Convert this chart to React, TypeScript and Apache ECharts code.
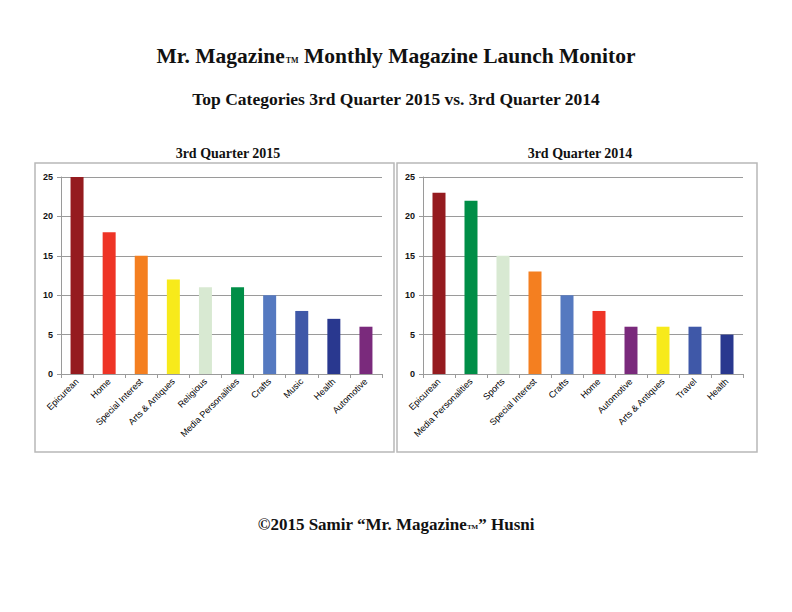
import React, { useEffect, useRef } from "react";
import * as echarts from "echarts";

const categories2015 = ["Epicurean", "Home", "Special Interest", "Arts & Antiques", "Religious", "Media Personalities", "Crafts", "Music", "Health", "Automotive"];
const values2015 = [25, 18, 15, 12, 11, 11, 10, 8, 7, 6];
const categories2014 = ["Epicurean", "Media Personalities", "Sports", "Special Interest", "Crafts", "Home", "Automotive", "Arts & Antiques", "Travel", "Health"];
const values2014 = [23, 22, 15, 13, 10, 8, 6, 6, 6, 5];
const yTicks = [0, 5, 10, 15, 20, 25];

const categoryColors: Record<string, string> = {
  "Epicurean": "#951b1f",
  "Home": "#ee3426",
  "Special Interest": "#f47f20",
  "Arts & Antiques": "#f7ea1b",
  "Religious": "#d8e9d2",
  "Sports": "#d8e9d2",
  "Media Personalities": "#008e47",
  "Crafts": "#5579c0",
  "Music": "#3f58a8",
  "Travel": "#3f58a8",
  "Health": "#29388f",
  "Automotive": "#7a2a7c",
};

const serif = "'Liberation Serif', 'DejaVu Serif', serif";
const sans = "'Liberation Sans', 'DejaVu Sans', sans-serif";

export default function App() {
  const ref = useRef<HTMLDivElement>(null);
  useEffect(() => {
    if (!ref.current) return;
    const chart = echarts.init(ref.current, null, { renderer: "svg" });
    const xAxisCommon = {
      type: "category" as const,
      axisLine: { lineStyle: { color: "#9a9a9a", width: 1 } },
      axisTick: { show: true, alignWithLabel: false, length: 4, lineStyle: { color: "#9a9a9a" } },
      axisLabel: { rotate: 45, interval: 0, fontFamily: sans, fontSize: 9, color: "#000", margin: 6 },
    };
    const yAxisCommon = {
      type: "value" as const,
      min: 0,
      max: 25,
      interval: 5,
      axisLine: { show: true, lineStyle: { color: "#9a9a9a" } },
      axisTick: { show: true, length: 4, lineStyle: { color: "#9a9a9a" } },
      axisLabel: { fontFamily: sans, fontSize: 9, fontWeight: "bold" as const, color: "#111", margin: 8,
        formatter: (v: number) => (yTicks.includes(v) ? String(v) : "") },
      splitLine: { show: true, lineStyle: { color: "#9a9a9a", width: 1 } },
    };
    const mk = (cats: string[], vals: number[]) =>
      vals.map((v, i) => ({ value: v, itemStyle: { color: categoryColors[cats[i]] } }));
    chart.setOption({
      animation: false,
      backgroundColor: "#ffffff",
      title: [
        {
          text: "{a|Mr. Magazine}{b|TM}{a| Monthly Magazine Launch Monitor}",
          left: "center", top: 40,
          textStyle: { rich: {
            a: { fontFamily: serif, fontSize: 21.5, fontWeight: "bold", color: "#111" },
            b: { fontFamily: serif, fontSize: 8, fontWeight: "bold", color: "#111", verticalAlign: "bottom", padding: [0, 0, 3, 1] },
          } },
        },
        {
          text: "Top Categories 3rd Quarter 2015 vs. 3rd Quarter 2014",
          left: "center", top: 85,
          textStyle: { fontFamily: serif, fontSize: 17.5, fontWeight: "bold", color: "#111" },
        },
        {
          text: "3rd Quarter 2015", left: 223, top: 141, textAlign: "center",
          textStyle: { fontFamily: serif, fontSize: 14, fontWeight: "bold", color: "#111" },
        },
        {
          text: "3rd Quarter 2014", left: 575, top: 141, textAlign: "center",
          textStyle: { fontFamily: serif, fontSize: 14, fontWeight: "bold", color: "#111" },
        },
        {
          text: "{a|©2015 Samir “Mr. Magazine}{b|TM}{a|” Husni}",
          left: "center", top: 511,
          textStyle: { rich: {
            a: { fontFamily: serif, fontSize: 17, fontWeight: "bold", color: "#111" },
            b: { fontFamily: serif, fontSize: 7, fontWeight: "bold", color: "#111", verticalAlign: "bottom", padding: [0, 0, 3, 0] },
          } },
        },
      ],
      graphic: [
        { type: "rect", shape: { x: 35, y: 163, width: 359, height: 289 }, style: { fill: "none", stroke: "#b8b8b8", lineWidth: 1.5 }, z: 0 },
        { type: "rect", shape: { x: 397, y: 163, width: 360, height: 289 }, style: { fill: "none", stroke: "#b8b8b8", lineWidth: 1.5 }, z: 0 },
      ],
      grid: [
        { left: 61, right: 410, top: 177, bottom: 238 },
        { left: 423, right: 49, top: 177, bottom: 238 },
      ],
      xAxis: [
        { ...xAxisCommon, gridIndex: 0, data: categories2015 },
        { ...xAxisCommon, gridIndex: 1, data: categories2014 },
      ],
      yAxis: [
        { ...yAxisCommon, gridIndex: 0 },
        { ...yAxisCommon, gridIndex: 1 },
      ],
      series: [
        { type: "bar", xAxisIndex: 0, yAxisIndex: 0, barWidth: 13, data: mk(categories2015, values2015) },
        { type: "bar", xAxisIndex: 1, yAxisIndex: 1, barWidth: 13, data: mk(categories2014, values2014) },
      ],
    });
    return () => chart.dispose();
  }, []);
  return (
    <div ref={ref} style={{ position: "fixed", left: 0, top: 0, width: 792, height: 612, background: "#fff" }} />
  );
}
